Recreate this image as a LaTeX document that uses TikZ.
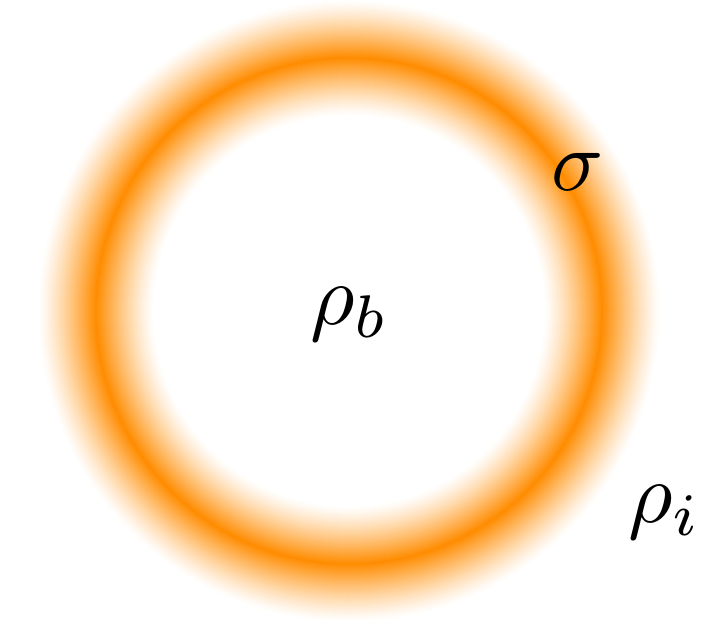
\documentclass[tikz,border=0pt]{standalone}
\definecolor{ringor}{RGB}{255,140,0}
\tikzset{lbl/.style={inner sep=0pt, font=\fontsize{10}{12}\selectfont, scale=8.6}}
\begin{document}
\begin{tikzpicture}[x=1pt,y=-1pt]
\useasboundingbox (0,0) rectangle (708,626);
\foreach \r in {312,311,...,194}{
  \pgfmathsetmacro{\k}{100*pow(max(0,1-abs(\r-253.5)/58),1.25)}
  \fill[color=ringor!\k!white] (349,311) circle[radius=\r];
}
\node[lbl] (sigma) at (578,172) {$\sigma$};
\node[lbl] (rhob) at (350,314) {$\rho_b$};
\node[lbl] (rhoi) at (665,512) {$\rho_i$};
\end{tikzpicture}
\end{document}
